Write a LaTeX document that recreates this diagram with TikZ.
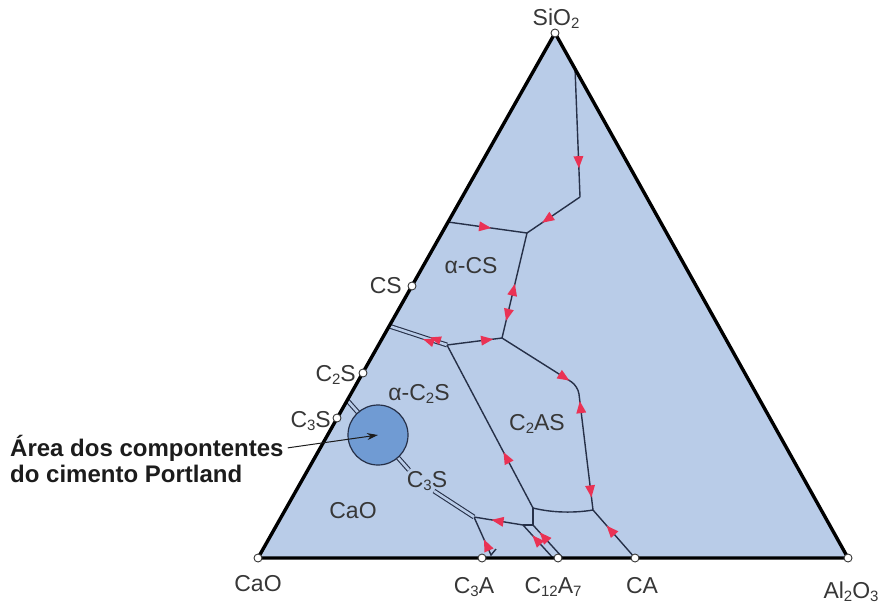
\documentclass[tikz,border=0pt]{standalone}
\usepackage{fontspec}
\setmainfont{Liberation Sans}
\usetikzlibrary{decorations.markings,arrows.meta}
\definecolor{triblue}{RGB}{185,204,232}
\definecolor{circblue}{RGB}{112,155,211}
\definecolor{navy}{RGB}{38,48,72}
\definecolor{arrred}{RGB}{234,50,84}
\definecolor{labgray}{RGB}{55,55,55}
\definecolor{boldgray}{RGB}{28,28,28}
\newcommand{\sbs}[1]{\raisebox{-0.3ex}{\fontsize{15}{15}\selectfont #1}}
\begin{document}
\begin{tikzpicture}[x=1pt,y=-1pt,
  bline/.style={draw=navy,line width=1.4pt},
  dline/.style={draw=navy,line width=1.1pt,double=triblue,double distance=2.6pt},
  fwdarr/.style={postaction={decorate,decoration={markings,mark=at position #1 with {\fill[arrred] (6pt,0pt) -- (-6pt,5pt) -- (-6pt,-5pt) -- cycle;}}}},
  revarr/.style={postaction={decorate,decoration={markings,mark=at position #1 with {\fill[arrred] (-6pt,0pt) -- (6pt,5pt) -- (6pt,-5pt) -- cycle;}}}},
  dblarr/.style={postaction={decorate,decoration={markings,mark=at position #1 with {\fill[arrred] (5pt,1.9pt) -- (-6pt,6.5pt) -- (-6pt,-2.2pt) -- cycle; \fill[arrred] (-1pt,-1.9pt) -- (-12pt,2.2pt) -- (-12pt,-6.5pt) -- cycle;}}}},
  vtx/.style={circle,draw=labgray,fill=white,line width=0.9pt,inner sep=0pt,minimum size=8pt},
  lab/.style={text=labgray,font=\fontsize{23}{25}\selectfont,inner sep=0pt,anchor=base},
  boldlab/.style={text=boldgray,font=\fontsize{24}{26}\selectfont\bfseries,inner sep=0pt,anchor=base west},
  tri/.style={draw=black,line width=3.4pt,line join=round},
]
\useasboundingbox (0,0) rectangle (882,603);
% vertices of the triangle and compound points
\coordinate (A) at (555,33);
\coordinate (B) at (258,558);
\coordinate (C) at (848,558);
\coordinate (pC3A) at (482,558);
\coordinate (pC12A7) at (558,558);
\coordinate (pCA) at (635,558);
\coordinate (pCS) at (412,286);
\coordinate (pC2S) at (363,373);
\coordinate (pC3S) at (337,418);
% invariant points and line ends
\coordinate (p1) at (575,68);
\coordinate (p2) at (580,197);
\coordinate (J1) at (527,233);
\coordinate (p3) at (448,222);
\coordinate (J2) at (502,338);
\coordinate (J3) at (447,345);
\coordinate (e1) at (389,326);
\coordinate (K) at (578,386);
\coordinate (J5) at (593,510);
\coordinate (J6) at (533,508);
\coordinate (J7) at (533,525);
\coordinate (J8) at (523,525);
\coordinate (J9) at (474,517);
\coordinate (q1) at (491,555);
\coordinate (q2) at (496,549);
\coordinate (d1) at (553,558);
\coordinate (d2) at (562,557);
\coordinate (e2) at (347,400);
\coordinate (c1) at (409,470);
\coordinate (c2) at (434,491);

\fill[triblue] (A) -- (B) -- (C) -- cycle;

% boundary curves
\draw[bline,fwdarr=0.73] (p1) -- (p2);
\draw[bline,fwdarr=0.62] (p2) -- (J1);
\draw[bline,fwdarr=0.47] (p3) -- (J1);
\draw[bline,revarr=0.54,fwdarr=0.78] (J1) -- (J2);
\draw[bline,fwdarr=0.73] (J3) -- (J2);
\draw[dline,dblarr=0.32] (J3) -- (e1);
\draw[bline,rounded corners=8pt] (J2) -- (K) -- (J5);
\path[fwdarr=0.82] (J2) -- (K);
\path[revarr=0.17,fwdarr=0.85] (K) -- (J5);
\draw[bline,revarr=0.69] (J3) -- (J6);
\draw[bline] (J6) .. controls (553,513) and (575,513) .. (J5);
\draw[bline,fwdarr=0.58] (pCA) -- (J5);
\draw[bline] (J6) -- (J7) -- (J8);
\draw[bline,fwdarr=0.52] (J8) -- (J9);
\draw[bline,revarr=0.45] (J8) -- (d1);
\draw[bline,revarr=0.37] (J7) -- (d2);
\draw[bline,revarr=0.62] (J9) -- (q1) -- (q2);
\draw[dline] (e2) -- (c1);
\draw[dline] (c2) -- (J9);

% Portland cement area
\node[circle,draw=navy,fill=circblue,line width=1.2pt,minimum size=60pt,inner sep=0pt] (circ) at (378,435) {};

% triangle outline
\draw[tri] (A) -- (B) -- (C) -- cycle;

% composition points
\foreach \p in {A,B,C,pC3A,pC12A7,pCA,pCS,pC2S,pC3S}
  \node[vtx] (v\p) at (\p) {};

% labels
\node[lab] (lSiO2) at (556,25) {SiO\sbs{2}};
\node[lab] (lCaO) at (258,591) {CaO};
\node[lab] (lC3A) at (474,593) {C\sbs{3}A};
\node[lab] (lC12A7) at (553,593) {C\sbs{12}A\sbs{7}};
\node[lab] (lCA) at (642,593) {CA};
\node[lab] (lAl2O3) at (851,598) {Al\sbs{2}O\sbs{3}};
\node[lab,anchor=base east] (lCS) at (402,293) {CS};
\node[lab,anchor=base east] (lC2S) at (356,381) {C\sbs{2}S};
\node[lab,anchor=base east] (lC3S) at (331,427) {C\sbs{3}S};
\node[lab] (aCS) at (471,273) {α-CS};
\node[lab] (aC2S) at (419,400) {α-C\sbs{2}S};
\node[lab] (iC2AS) at (537,430) {C\sbs{2}AS};
\node[lab] (iC3S) at (427,487) {C\sbs{3}S};
\node[lab] (iCaO) at (353,518) {CaO};

\node[boldlab] (lbl1) at (10,456) {Área dos compontentes};
\node[boldlab] (lbl2) at (10,482) {do cimento Portland};
\draw[-{Stealth[length=11pt,width=7pt]},line width=1pt,draw=boldgray] ([xshift=4pt]lbl1.east) -- (circ.center);
\end{tikzpicture}
\end{document}
